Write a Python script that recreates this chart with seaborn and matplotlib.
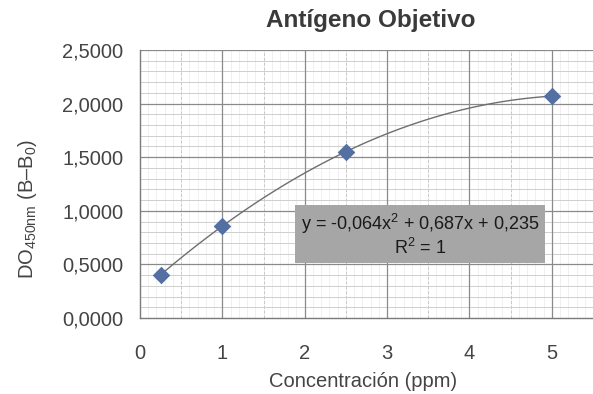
import matplotlib
matplotlib.use("Agg")
import matplotlib.pyplot as plt
import seaborn as sns
import pandas as pd
import numpy as np
from matplotlib.ticker import MultipleLocator, FuncFormatter

# data
concentration = [0.25, 1.0, 2.5, 5.0]
absorbance = [0.40, 0.86, 1.55, 2.07]
equation_text = "y = -0,064x$^2$ + 0,687x + 0,235"
r2_text = "R$^2$ = 1"
title = "Antígeno Objetivo"
x_label = "Concentración (ppm)"
y_label = "DO$_{450nm}$ (B–B$_0$)"

df = pd.DataFrame({"conc": concentration, "od": absorbance})

sns.set_style("white")
plt.rcParams["font.family"] = ["Liberation Sans", "DejaVu Sans"]
plt.rcParams["mathtext.fontset"] = "custom"
plt.rcParams["mathtext.rm"] = "Liberation Sans"
plt.rcParams["mathtext.it"] = "Liberation Sans"
plt.rcParams["mathtext.default"] = "regular"

text_color = "#444444"
fig = plt.figure(figsize=(5.93, 3.94), dpi=100)
ax = fig.add_axes([0.236, 0.193, 0.764, 0.680])

ax.set_xlim(0, 5.5)
ax.set_ylim(0, 2.5)

# grids: Excel style
for v in np.arange(0.1, 5.5, 0.1):
    ax.axvline(v, color="#eeeeee", lw=0.6, zorder=0)
for v in np.arange(0.5, 5.5, 1.0):
    ax.axvline(v, color="#c8c8c8", lw=0.7, ls=(0, (3, 2)), zorder=0)
for v in np.arange(1, 5.5, 1.0):
    ax.axvline(v, color="#8a8a8a", lw=0.9, zorder=1)
for v in np.arange(0.1, 2.5, 0.1):
    ax.axhline(v, color="#cfcfcf", lw=0.7, zorder=0)
for v in np.arange(0.5, 2.51, 0.5):
    ax.axhline(v, color="#8a8a8a", lw=0.9, zorder=1)

sns.regplot(data=df, x="conc", y="od", order=2, ci=None, scatter=False,
            line_kws={"color": "#6e6e6e", "lw": 1.0, "zorder": 3}, ax=ax)
sns.scatterplot(data=df, x="conc", y="od", marker="D", s=80, color="#5470a3",
                edgecolor="#5470a3", linewidth=0, zorder=4, ax=ax)

ax.xaxis.set_major_locator(MultipleLocator(1))
ax.yaxis.set_major_locator(MultipleLocator(0.5))
ax.yaxis.set_major_formatter(FuncFormatter(lambda v, p: f"{v:.4f}".replace(".", ",")))
ax.tick_params(axis="x", length=0, pad=19, labelsize=14.5, colors=text_color)
ax.tick_params(axis="y", length=0, pad=12, labelsize=14.5, colors=text_color)

for side in ["top", "right"]:
    ax.spines[side].set_visible(False)
for side in ["left", "bottom"]:
    ax.spines[side].set_color("#7a7a7a")
    ax.spines[side].set_linewidth(1.0)

ax.set_xlabel(x_label, fontsize=14.5, color=text_color)
ax.set_ylabel(y_label, fontsize=14.5, color=text_color)
ax.xaxis.set_label_coords(0.492, -0.239)
ax.yaxis.set_label_coords(-0.249, 0.407)
for lab in (ax.xaxis.label, ax.yaxis.label):
    lab.set_va("center")
    lab.set_ha("center")

fig.text(0.626, 0.949, title, fontsize=17.5, fontweight="bold", color="#3a3a3a",
         ha="center", va="center")

ax.text(3.40, 0.775, equation_text + "\n" + r2_text, ha="center", va="center",
        fontsize=13, color="#1a1a1a", linespacing=1.1, zorder=5,
        bbox=dict(boxstyle="square,pad=0.3", facecolor="#a6a6a6", edgecolor="none"))

fig.savefig("out.png", dpi=100)
plt.close(fig)
